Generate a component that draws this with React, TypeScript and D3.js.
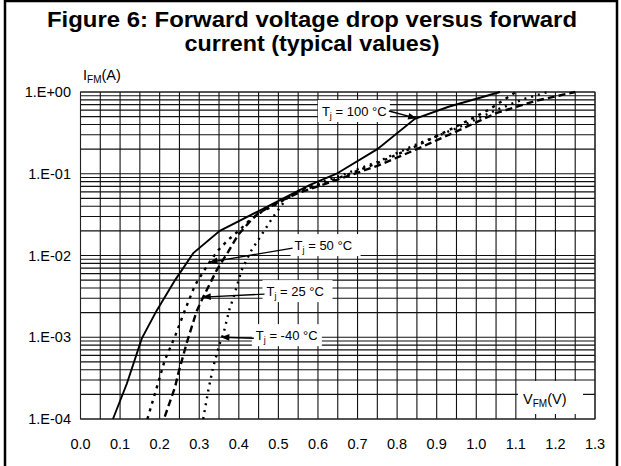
import React from "react";
import * as d3 from "d3";

const title1 = "Figure 6: Forward voltage drop versus forward";
const title2 = "current (typical values)";

const xTicks = [0, 0.1, 0.2, 0.3, 0.4, 0.5, 0.6, 0.7, 0.8, 0.9, 1.0, 1.1, 1.2, 1.3];
const yTicks = [1, 0.1, 0.01, 0.001, 0.0001];
const yTickLabels = ["1.E+00", "1.E-01", "1.E-02", "1.E-03", "1.E-04"];

// Tj = 100 °C (solid)
const v100 = [0.082, 0.117, 0.155, 0.192, 0.239, 0.285, 0.352, 0.445, 0.52, 0.58, 0.647, 0.75, 0.845, 0.93, 1.06];
const i100 = [1e-4, 2.7e-4, 9.7e-4, 2.1e-3, 5e-3, 1.07e-2, 2.0e-2, 3.4e-2, 5.2e-2, 7.3e-2, 0.1, 0.2, 0.47, 0.66, 1.0];

// Tj = 50 °C
const v50 = [0.169, 0.192, 0.213, 0.238, 0.264, 0.289, 0.31, 0.327, 0.348, 0.373, 0.402, 0.427, 0.458, 0.491, 0.55, 0.65, 0.75, 0.85, 0.95, 1.03, 1.1];
const i50 = [1e-4, 2.36e-4, 5.25e-4, 1e-3, 2.15e-3, 4.3e-3, 6.3e-3, 8.4e-3, 0.0116, 0.0155, 0.0205, 0.027, 0.0343, 0.0414, 0.06, 0.088, 0.135, 0.22, 0.38, 0.6, 1.0];

// Tj = 25 °C
const v25 = [0.213, 0.239, 0.247, 0.268, 0.293, 0.31, 0.344, 0.373, 0.398, 0.427, 0.449, 0.5, 0.55, 0.65, 0.75, 0.85, 0.95, 1.05, 1.15, 1.25];
const i25 = [1.07e-4, 2.47e-4, 3.6e-4, 8.4e-4, 2.05e-3, 3.1e-3, 6.6e-3, 0.0111, 0.0178, 0.0258, 0.0328, 0.045, 0.058, 0.085, 0.125, 0.2, 0.33, 0.55, 0.78, 1.0];

// Tj = -40 °C
const vm40 = [0.31, 0.323, 0.335, 0.352, 0.361, 0.377, 0.386, 0.407, 0.432, 0.449, 0.487, 0.521, 0.56, 0.65, 0.75, 0.85, 0.95, 1.05, 1.12, 1.18];
const im40 = [1e-4, 2.25e-4, 4.3e-4, 8.4e-4, 1.1e-3, 2.25e-3, 3e-3, 6.6e-3, 0.0116, 0.0155, 0.0298, 0.05, 0.065, 0.092, 0.14, 0.23, 0.36, 0.6, 0.82, 1.0];

const labelTexts = [" = 100 °C", " = 50 °C", " = 25 °C", " = -40 °C"];
// label anchor (text start) in data coords, and arrow target in data coords
const labelV = [0.61, 0.541, 0.47, 0.443];
const labelI = [0.585, 0.0134, 0.00367, 0.00106];
const targetV = [0.847, 0.327, 0.31, 0.357];
const targetI = [0.48, 0.0083, 0.0031, 0.001];

const W = 621, H = 466;
const x = d3.scaleLinear().domain([0, 1.3]).range([80.5, 595]);
const y = d3.scaleLog().domain([1e-4, 1]).range([419, 92]);

const font = "Arial, 'Liberation Sans', Helvetica, sans-serif";

function zip(vs: number[], is: number[]): [number, number][] {
  return vs.map((v, k) => [v, is[k]]);
}

export default function App() {
  const line = d3
    .line<[number, number]>()
    .x((d) => x(d[0]))
    .y((d) => y(d[1]));

  const vGrid = d3.range(0, 27).map((k) => k * 0.05);
  const hGrid: number[] = [];
  for (let e = -4; e < 0; e++) {
    for (let m = 1; m < 10; m++) hGrid.push(m * Math.pow(10, e));
  }
  hGrid.push(1);

  const series = [
    { v: v100, i: i100, dash: undefined as string | undefined, w: 1.9 },
    { v: v50, i: i50, dash: "3,5", w: 2.4 },
    { v: v25, i: i25, dash: "7,4", w: 2.4 },
    { v: vm40, i: im40, dash: "2,5", w: 2.4 },
  ];

  const [x0, x1] = x.range();
  const [yb, yt] = y.range();

  return (
    <svg
      width={W}
      height={H}
      style={{ position: "absolute", left: 0, top: 0, background: "#fff" }}
      fontFamily={font}
    >
      <defs>
        <marker id="arr" viewBox="0 0 10 10" refX="9" refY="5" markerWidth="7" markerHeight="6" orient="auto">
          <path d="M0,1 L10,5 L0,9 Z" fill="#000" />
        </marker>
      </defs>
      <rect x={0} y={0} width={W} height={H} fill="#fff" />
      <rect x={5} y={1} width={612} height={480} fill="none" stroke="#000" strokeWidth={2.5} />

      <text x={312} y={27} textAnchor="middle" fontWeight="bold" fontSize={21.5} textLength={530} lengthAdjust="spacingAndGlyphs">
        {title1}
      </text>
      <text x={312} y={51} textAnchor="middle" fontWeight="bold" fontSize={21.5} textLength={255} lengthAdjust="spacingAndGlyphs">
        {title2}
      </text>

      {/* grid */}
      <g stroke="#111" strokeWidth={1.1}>
        {vGrid.map((v, k) => (
          <line key={"v" + k} x1={x(v)} x2={x(v)} y1={yb} y2={yt} />
        ))}
        {hGrid.map((v, k) => (
          <line key={"h" + k} x1={x0} x2={x1} y1={y(v)} y2={y(v)} />
        ))}
      </g>
      <rect x={x0} y={yt} width={x1 - x0} height={yb - yt} fill="none" stroke="#222" strokeWidth={1} />

      {/* y tick labels */}
      {yTicks.map((t, k) => (
        <text key={"yt" + k} x={71} y={y(t)} dy="0.36em" textAnchor="end" fontSize={14.5}>
          {yTickLabels[k]}
        </text>
      ))}
      {/* x tick labels */}
      {xTicks.map((t, k) => (
        <text key={"xt" + k} x={x(t)} y={449} textAnchor="middle" fontSize={14.5}>
          {t.toFixed(1)}
        </text>
      ))}

      {/* axis titles */}
      <text x={83} y={80} fontSize={14.5}>
        I<tspan fontSize={10} dy={3}>FM</tspan>
        <tspan dy={-3}>(A)</tspan>
      </text>
      <rect x={518} y={381} width={65} height={33} fill="#fff" />
      <text x={523} y={404} fontSize={14.5}>
        V<tspan fontSize={10} dy={3}>FM</tspan>
        <tspan dy={-3}>(V)</tspan>
      </text>

      {/* curves */}
      {series.map((s, k) => (
        <path
          key={"s" + k}
          d={line(zip(s.v, s.i)) || ""}
          fill="none"
          stroke="#000"
          strokeWidth={s.w}
          strokeDasharray={s.dash}
        />
      ))}

      {/* annotations */}
      {labelTexts.map((t, k) => {
        const lx = x(labelV[k]);
        const ly = y(labelI[k]);
        const tx = x(targetV[k]);
        const ty = y(targetI[k]);
        const boxW = k === 0 ? 72 : 70;
        return (
          <g key={"lab" + k}>
            <rect x={lx - 4} y={ly - 11} width={boxW} height={22} fill="#fff" />
            <line
              x1={k === 0 ? lx + boxW - 5 : lx - 2}
              y1={k === 0 ? ly : ly + 3}
              x2={tx}
              y2={ty}
              stroke="#000"
              strokeWidth={1.4}
              markerEnd="url(#arr)"
            />
            <text x={lx} y={ly + 5} fontSize={13}>
              T<tspan fontSize={9} dy={3}>j</tspan>
              <tspan dy={-3}>{t}</tspan>
            </text>
          </g>
        );
      })}
    </svg>
  );
}
